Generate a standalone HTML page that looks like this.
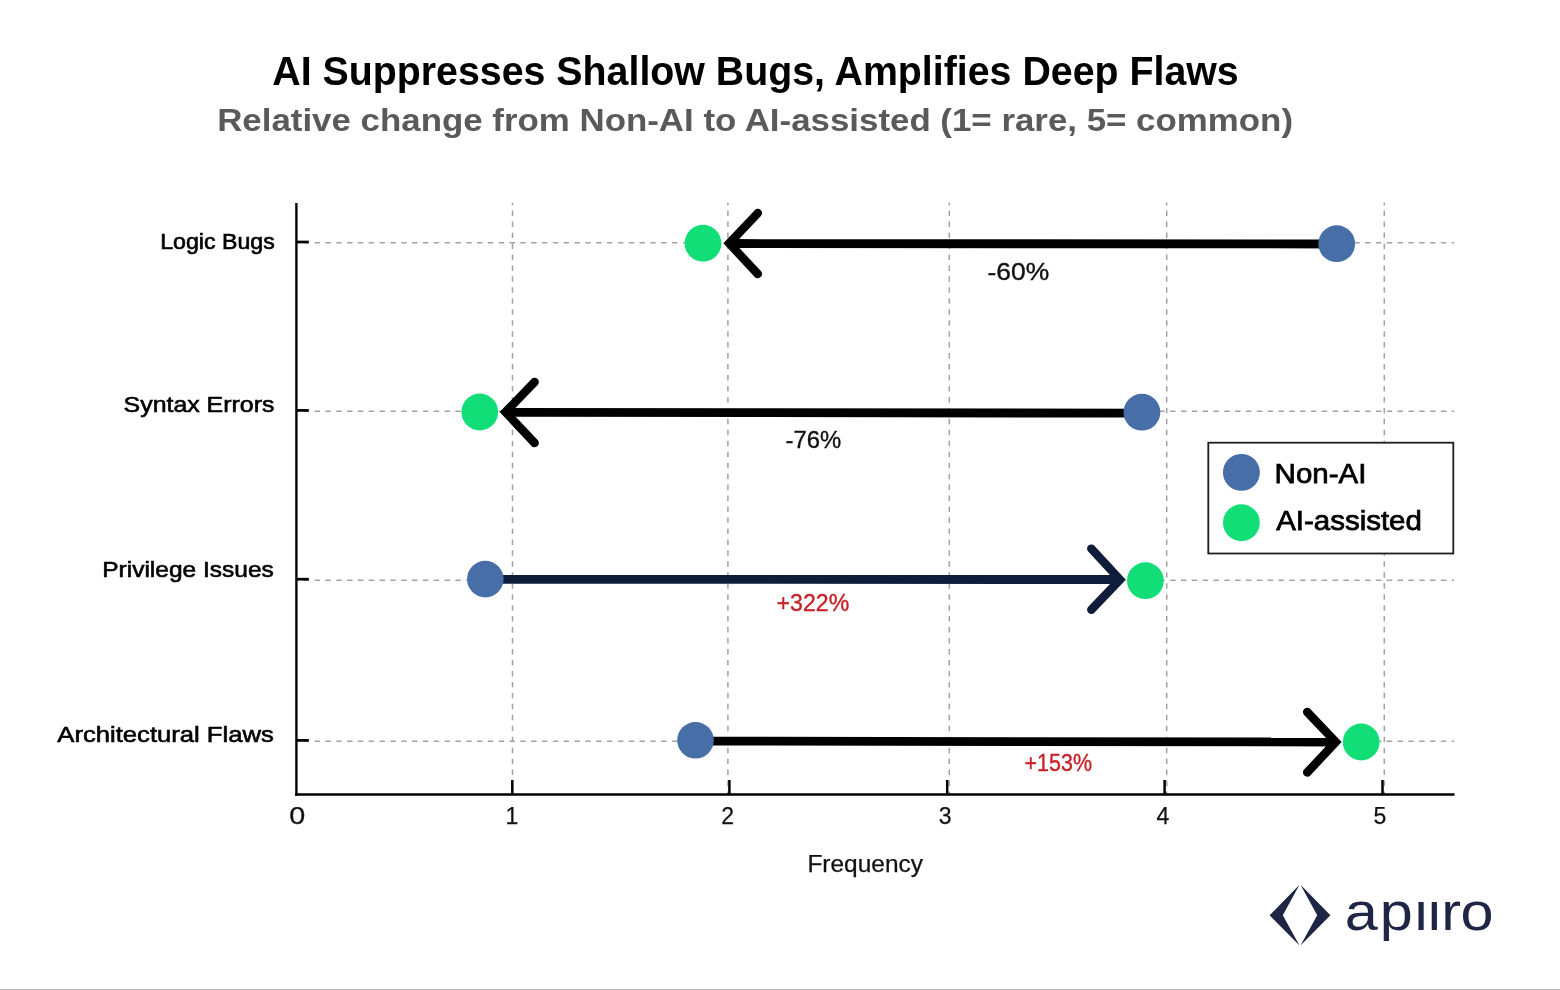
<!DOCTYPE html>
<html lang="en">
<head>
<meta charset="utf-8">
<title>AI Suppresses Shallow Bugs, Amplifies Deep Flaws</title>
<style>
html,body{margin:0;padding:0;background:#ffffff;}
body{width:1560px;height:990px;overflow:hidden;position:relative;}
svg{display:block;position:absolute;left:0;top:0;will-change:transform;}
text{font-family:"Liberation Sans",Arial,sans-serif;}
</style>
</head>
<body>
<svg width="1560" height="990" viewBox="0 0 1560 990">
  <rect x="0" y="0" width="1560" height="990" fill="#ffffff"/>
  <!-- bottom edge line -->
  <rect x="0" y="989" width="1560" height="1" fill="#bcbcbc"/>

  <!-- Title -->
  <text x="755.5" y="84.5" text-anchor="middle" font-size="40.3" font-weight="700" fill="#000" textLength="966.4" lengthAdjust="spacingAndGlyphs">AI Suppresses Shallow Bugs, Amplifies Deep Flaws</text>
  <text x="755.1" y="130.6" text-anchor="middle" font-size="32" font-weight="700" fill="#5a5a5a" textLength="1075.8" lengthAdjust="spacingAndGlyphs">Relative change from Non-AI to AI-assisted (1= rare, 5= common)</text>

  <!-- gridlines -->
  <g stroke="#a2a2a2" stroke-width="1.5" stroke-dasharray="5.5 5.46" fill="none">
    <line x1="512.5" y1="202.5" x2="512.5" y2="794" stroke-dashoffset="2.86"/>
    <line x1="727.9" y1="202.5" x2="727.9" y2="794" stroke-dashoffset="2.86"/>
    <line x1="949.3" y1="202.5" x2="949.3" y2="794" stroke-dashoffset="2.86"/>
    <line x1="1166.7" y1="202.5" x2="1166.7" y2="794" stroke-dashoffset="2.86"/>
    <line x1="1384.3" y1="202.5" x2="1384.3" y2="794" stroke-dashoffset="2.86"/>
    <line x1="297" y1="242.7" x2="1454" y2="242.7" stroke-dasharray="5.4 5.43" stroke-dashoffset="4.06"/>
    <line x1="297" y1="411.3" x2="1454" y2="411.3" stroke-dasharray="5.4 5.43" stroke-dashoffset="4.06"/>
    <line x1="297" y1="580.2" x2="1454" y2="580.2" stroke-dasharray="5.4 5.43" stroke-dashoffset="4.06"/>
    <line x1="297" y1="741.3" x2="1454" y2="741.3" stroke-dasharray="5.4 5.43" stroke-dashoffset="4.06"/>
  </g>

  <!-- axes -->
  <g stroke="#000" stroke-width="2.4" fill="none" stroke-linecap="butt">
    <line x1="296.4" y1="203" x2="296.4" y2="795.7"/>
    <line x1="295.2" y1="794.5" x2="1454.5" y2="794.5"/>
    <!-- y ticks -->
    <line x1="296" y1="242" x2="308.8" y2="242" stroke-width="2.7"/>
    <line x1="296" y1="410.4" x2="308.8" y2="410.4" stroke-width="2.7"/>
    <line x1="296" y1="579.2" x2="308.8" y2="579.2" stroke-width="2.7"/>
    <line x1="296" y1="740.4" x2="308.8" y2="740.4" stroke-width="2.7"/>
    <!-- x ticks -->
    <line x1="512.3" y1="780" x2="512.3" y2="794" stroke-width="2.5"/>
    <line x1="729.4" y1="780" x2="729.4" y2="794" stroke-width="2.5"/>
    <line x1="947.2" y1="780" x2="947.2" y2="794" stroke-width="2.5"/>
    <line x1="1164.6" y1="780" x2="1164.6" y2="794" stroke-width="2.5"/>
    <line x1="1382.5" y1="780" x2="1382.5" y2="794" stroke-width="2.5"/>
  </g>

  <!-- y labels -->
  <g font-size="22.3" fill="#000" stroke="#000" stroke-width="0.6" text-anchor="end">
    <text x="274.8" y="248.9" font-size="21.2" textLength="114.6" lengthAdjust="spacingAndGlyphs">Logic Bugs</text>
    <text x="274.4" y="412.1" textLength="150.8" lengthAdjust="spacingAndGlyphs">Syntax Errors</text>
    <text x="273.8" y="576.9" textLength="171.6" lengthAdjust="spacingAndGlyphs">Privilege Issues</text>
    <text x="273.8" y="741.9" textLength="216.5" lengthAdjust="spacingAndGlyphs">Architectural Flaws</text>
  </g>

  <!-- x labels -->
  <g font-size="23" fill="#111" stroke="#111" stroke-width="0.25" text-anchor="middle">
    <text x="297.3" y="824" textLength="16" lengthAdjust="spacingAndGlyphs">0</text>
    <text x="512" y="824">1</text>
    <text x="727.6" y="824">2</text>
    <text x="945.1" y="824">3</text>
    <text x="1162.8" y="824">4</text>
    <text x="1380" y="824">5</text>
    <text x="865.2" y="871.5" font-size="23" textLength="115.6" lengthAdjust="spacingAndGlyphs">Frequency</text>
  </g>

  <!-- arrows -->
  <g stroke-width="8.5" fill="none" stroke-linecap="round" stroke-linejoin="miter">
    <!-- row 1: Logic Bugs (left) -->
    <line x1="1336.7" y1="244" x2="731" y2="243.5" stroke="#000" stroke-linecap="butt" stroke-width="8.8"/>
    <polyline points="757.8,213.1 729.2,243.3 757.8,274" stroke="#000"/>
    <!-- row 2: Syntax Errors (left) -->
    <line x1="1141.9" y1="413.2" x2="507" y2="412.3" stroke="#000" stroke-linecap="butt" stroke-width="8.8"/>
    <polyline points="534.6,382 505.5,412.1 534.6,443" stroke="#000"/>
    <!-- row 3: Privilege (right, navy) -->
    <line x1="485.3" y1="579.4" x2="1118" y2="579.5" stroke="#0f1c3a" stroke-linecap="butt" stroke-width="8.8"/>
    <polyline points="1091.3,548.7 1120,579.6 1091.3,609.7" stroke="#0f1c3a"/>
    <!-- row 4: Architectural (right) -->
    <line x1="695.5" y1="741.1" x2="1334" y2="742" stroke="#000" stroke-linecap="butt" stroke-width="8.8"/>
    <polyline points="1307.2,712 1335.8,742 1307.2,772.5" stroke="#000"/>
  </g>

  <!-- dots -->
  <g>
    <circle cx="703" cy="243.2" r="18.4" fill="#12de78"/>
    <circle cx="1336.7" cy="243.7" r="18.4" fill="#476ea6"/>
    <circle cx="479.8" cy="412" r="18.4" fill="#12de78"/>
    <circle cx="1141.9" cy="412.2" r="18.4" fill="#476ea6"/>
    <circle cx="485.3" cy="579.1" r="18.3" fill="#476ea6"/>
    <circle cx="1145.4" cy="580.7" r="18.4" fill="#12de78"/>
    <circle cx="695.5" cy="740.3" r="18.3" fill="#476ea6"/>
    <circle cx="1361.2" cy="742" r="18.4" fill="#12de78"/>
  </g>

  <!-- change labels -->
  <g font-size="23" text-anchor="middle" stroke-width="0.35">
    <text x="1018.3" y="279.5" fill="#111" stroke="#111" textLength="61.6" lengthAdjust="spacingAndGlyphs">-60%</text>
    <text x="813.3" y="447.8" fill="#111" stroke="#111" textLength="55.7" lengthAdjust="spacingAndGlyphs">-76%</text>
    <text x="812.9" y="611" fill="#c82028" stroke="#c82028" textLength="72.6" lengthAdjust="spacingAndGlyphs">+322%</text>
    <text x="1058.3" y="770.6" fill="#c82028" stroke="#c82028" textLength="67.4" lengthAdjust="spacingAndGlyphs">+153%</text>
  </g>

  <!-- legend -->
  <rect x="1208.3" y="442.7" width="245" height="110.8" fill="#fff" stroke="#1e1e1e" stroke-width="1.8"/>
  <circle cx="1241.4" cy="472.4" r="18.45" fill="#476ea6"/>
  <circle cx="1241.4" cy="522.8" r="18.45" fill="#12de78"/>
  <g font-size="27" fill="#000" stroke="#000" stroke-width="0.75">
    <text x="1274.6" y="483.3" textLength="91.8" lengthAdjust="spacingAndGlyphs">Non-AI</text>
    <text x="1276.2" y="529.6" textLength="145.7" lengthAdjust="spacingAndGlyphs">AI-assisted</text>
  </g>

  <!-- logo -->
  <g fill="#1f2544">
    <polygon points="1299.5,884.8 1269.6,915.3 1299.5,945.4 1282.8,915.3"/>
    <polygon points="1300.5,884.8 1330.4,915.3 1300.5,945.4 1317.2,915.3"/>
  </g>
  <text x="1222.43 1254.32 1285.95 1298.04 1310.13 1327.7" y="930.5" font-size="54" fill="#1f2544" transform="scale(1.1 1)">apiiro</text>
  <rect x="1414" y="888" width="26" height="11.5" fill="#fff"/>
</svg>
</body>
</html>
